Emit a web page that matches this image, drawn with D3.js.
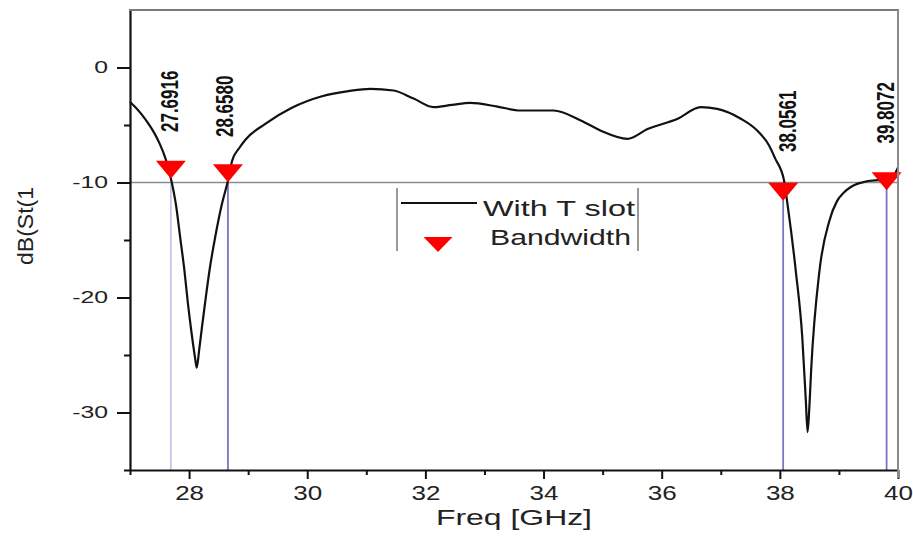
<!DOCTYPE html>
<html>
<head>
<meta charset="utf-8">
<script src="https://cdn.jsdelivr.net/npm/d3@7"></script>
<style>
  html, body { margin: 0; padding: 0; background: #fff; }
  svg { display: block; }
  text { font-family: "Liberation Sans", Arial, sans-serif; }
</style>
</head>
<body>
<svg id="chart" width="913" height="541"></svg>
<script>
// ---- data ----
const freq = [27.00, 27.10, 27.20, 27.30, 27.40, 27.50, 27.60, 27.69, 27.78, 27.85, 27.92, 27.98, 28.04, 28.10, 28.13,
  28.17, 28.22, 28.27, 28.35, 28.44, 28.55, 28.66, 28.73, 28.85, 28.95, 29.29, 29.74, 30.25, 30.70, 31.07, 31.46,
  31.80, 32.14, 32.45, 32.76, 33.22, 33.61, 34.17, 34.63, 34.97, 35.42, 35.76, 36.27, 36.66, 36.94, 37.34,
  37.62, 37.82, 37.92, 38.07, 38.13, 38.27, 38.38, 38.44, 38.47, 38.50, 38.53, 38.67, 38.84, 38.97, 39.08,
  39.32, 39.66, 39.82, 39.92, 40.00];
const s11 = [-3.0, -3.5, -4.1, -4.8, -5.6, -6.6, -7.9, -9.6, -12.0, -14.8, -17.6, -20.5, -23.0, -25.2, -26.1,
  -24.6, -22.5, -20.5, -17.5, -14.8, -12.0, -9.8, -8.1, -7.0, -6.3, -4.9, -3.5, -2.5, -2.05, -1.85, -2.0,
  -2.7, -3.45, -3.25, -3.07, -3.4, -3.74, -3.74, -4.6, -5.5, -6.2, -5.35, -4.46, -3.45, -3.6, -4.46,
  -5.5, -6.8, -7.9, -9.8, -11.9, -17.7, -23.5, -29.0, -31.7, -29.5, -26.3, -17.7, -13.3, -11.6, -10.9,
  -10.1, -9.8, -10.0, -9.5, -8.7];
const bwFreq = [27.6916, 28.6580, 38.0561, 39.8072];
const bwMarkerDb = [-8.9, -9.2, -10.8, -9.9];
const bwLabels = ["27.6916", "28.6580", "38.0561", "39.8072"];
const refLevel = -10;
const xTicks = [28, 30, 32, 34, 36, 38, 40];
const xMinorTicks = [27, 29, 31, 33, 35, 37, 39];
const yTicks = [0, -10, -20, -30];
const yMinorTicks = [-5, -15, -25, -35];
const seriesName = "With T slot";
const markerName = "Bandwidth";
const xTitle = "Freq [GHz]";
const yTitle = "dB(St(1";

// ---- layout ----
const svg = d3.select("#chart");
const x = d3.scaleLinear().domain([27, 40]).range([130, 898]);
const y = d3.scaleLinear().domain([-35, 5]).range([470, 10]);

function stretch(sel, sx) {
  sel.each(function () {
    const len = this.getComputedTextLength();
    d3.select(this).attr("textLength", len * sx).attr("lengthAdjust", "spacingAndGlyphs");
  });
}

// reference line at -10
svg.append("line")
  .attr("x1", x(27)).attr("x2", x(40))
  .attr("y1", y(refLevel)).attr("y2", y(refLevel))
  .attr("stroke", "#8c8c8c").attr("stroke-width", 1.6);

// vertical bandwidth lines
const vColors = ["#c6c6ec", "#7676c4", "#7676c4", "#7676c4"];
svg.selectAll("line.bw").data(bwFreq).join("line")
  .attr("class", "bw")
  .attr("x1", d => x(d)).attr("x2", d => x(d))
  .attr("y1", y(refLevel)).attr("y2", y(-35))
  .attr("stroke", (d, i) => vColors[i]).attr("stroke-width", 1.8);

// curve
const pts = freq.map((f, i) => [f, s11[i]]);
svg.append("path")
  .datum(pts)
  .attr("fill", "none")
  .attr("stroke", "#111")
  .attr("stroke-width", 2.2)
  .attr("stroke-linejoin", "round")
  .attr("d", d3.line().x(d => x(d[0])).y(d => y(d[1])).curve(d3.curveMonotoneX));

// markers
const tri = (w, h) => `M${-w / 2},${-h / 2}L${w / 2},${-h / 2}L0,${h / 2}Z`;
svg.selectAll("path.mk").data(bwFreq).join("path")
  .attr("class", "mk")
  .attr("transform", (d, i) => `translate(${x(d)},${y(bwMarkerDb[i])})`)
  .attr("d", tri(30, 18))
  .attr("fill", "#ff0000");

// marker labels (rotated)
const labelXOff = [7.5, 5.5, 12.7, 7.7];
const labelBottom = [132, 137, 152, 143.5];
svg.selectAll("text.bwl").data(bwLabels).join("text")
  .attr("class", "bwl")
  .attr("transform", (d, i) => `translate(${x(bwFreq[i]) + labelXOff[i]},${labelBottom[i]}) scale(1.36,1) rotate(-90)`)
  .attr("font-size", 17)
  .attr("font-weight", "bold")
  .attr("fill", "#111")
  .text(d => d);

// axes
const fmt = d => String(d);
const gy = svg.append("g").attr("transform", `translate(${x(27)},0)`)
  .call(d3.axisLeft(y).tickValues(yTicks).tickSize(13).tickSizeOuter(0).tickPadding(9).tickFormat(fmt));
gy.select(".domain").attr("stroke", "#111").attr("stroke-width", 2.2);
gy.selectAll(".tick line").attr("stroke", "#111").attr("stroke-width", 2);
gy.selectAll(".tick text").attr("font-size", 16.5).attr("fill", "#222")
  .attr("font-family", "Liberation Sans, Arial, sans-serif").call(stretch, 1.5);
const gym = svg.append("g").attr("transform", `translate(${x(27)},0)`)
  .call(d3.axisLeft(y).tickValues(yMinorTicks).tickSize(6).tickSizeOuter(0).tickFormat(""));
gym.select(".domain").remove();
gym.selectAll(".tick line").attr("stroke", "#111").attr("stroke-width", 2);

const gx = svg.append("g").attr("transform", `translate(0,${y(-35)})`)
  .call(d3.axisBottom(x).tickValues(xTicks).tickSize(9).tickSizeOuter(0).tickPadding(7).tickFormat(fmt));
gx.select(".domain").attr("stroke", "#111").attr("stroke-width", 2.2);
gx.selectAll(".tick line").attr("stroke", "#111").attr("stroke-width", 2);
gx.selectAll(".tick text").attr("font-size", 20).attr("fill", "#222")
  .attr("font-family", "Liberation Sans, Arial, sans-serif").call(stretch, 1.3);
const gxm = svg.append("g").attr("transform", `translate(0,${y(-35)})`)
  .call(d3.axisBottom(x).tickValues(xMinorTicks).tickSize(5).tickSizeOuter(0).tickFormat(""));
gxm.select(".domain").remove();
gxm.selectAll(".tick line").attr("stroke", "#111").attr("stroke-width", 2);

// top and right frame
svg.append("line").attr("x1", x(27) - 1).attr("x2", x(40) + 1).attr("y1", y(5)).attr("y2", y(5))
  .attr("stroke", "#7a7a7a").attr("stroke-width", 2);
svg.append("line").attr("x1", x(40)).attr("x2", x(40)).attr("y1", y(5)).attr("y2", y(-35) + 8)
  .attr("stroke", "#8a8a8a").attr("stroke-width", 2);

// axis titles
svg.append("text").attr("x", (x(27) + x(40)) / 2).attr("y", 525)
  .attr("text-anchor", "middle").attr("font-size", 22).attr("fill", "#222")
  .text(xTitle).call(stretch, 1.45);
svg.append("text").attr("transform", "translate(33,226) rotate(-90)")
  .attr("text-anchor", "middle").attr("font-size", 22).attr("fill", "#222")
  .text(yTitle).attr("textLength", 78).attr("lengthAdjust", "spacingAndGlyphs");

// legend
const lg = svg.append("g");
lg.append("line").attr("x1", 397).attr("x2", 397).attr("y1", 188).attr("y2", 251)
  .attr("stroke", "#999").attr("stroke-width", 2);
lg.append("line").attr("x1", 638).attr("x2", 638).attr("y1", 188).attr("y2", 251)
  .attr("stroke", "#999").attr("stroke-width", 2);
lg.append("line").attr("x1", 401).attr("x2", 477).attr("y1", 203).attr("y2", 203)
  .attr("stroke", "#111").attr("stroke-width", 2);
lg.append("text").attr("x", 483).attr("y", 216).attr("font-size", 22).attr("fill", "#222")
  .text(seriesName).attr("textLength", 152).attr("lengthAdjust", "spacingAndGlyphs");
lg.append("path").attr("transform", "translate(438,244.5)").attr("d", tri(29, 15)).attr("fill", "#ff0000");
lg.append("text").attr("x", 490).attr("y", 245).attr("font-size", 22).attr("fill", "#222")
  .text(markerName).attr("textLength", 141).attr("lengthAdjust", "spacingAndGlyphs");
</script>
</body>
</html>
